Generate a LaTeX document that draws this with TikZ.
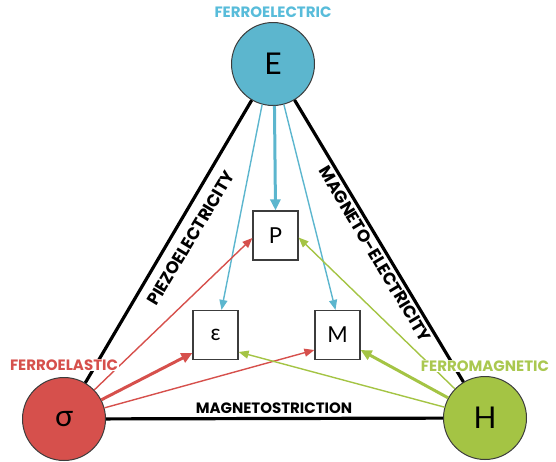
\documentclass[tikz,border=0pt]{standalone}
\usepackage{fontspec}
\setmainfont{Lato}
\newfontfamily\labfont{Poppins}
\usetikzlibrary{arrows.meta}
\definecolor{ecol}{RGB}{92,182,206}
\definecolor{ecolt}{RGB}{88,188,218}
\definecolor{scol}{RGB}{214,80,76}
\definecolor{hcol}{RGB}{164,196,68}
\definecolor{hcolt}{RGB}{170,200,80}
\definecolor{bordc}{RGB}{60,60,60}
\begin{document}
\begin{tikzpicture}[x=1pt,y=-1pt,
 phasenode/.style={circle,draw=bordc,line width=1pt,minimum size=83pt,inner sep=0pt,font=\fontsize{30}{32}\selectfont},
 qbox/.style={draw=bordc,line width=1.2pt,minimum width=45pt,minimum height=49pt,inner sep=0pt,fill=white,font=\fontsize{22}{24}\selectfont},
 triedge/.style={line width=3.2pt,black},
 thinarr/.style={line width=1.4pt,-{Triangle[length=10pt,width=8pt]}},
 thickarr/.style={line width=3pt,-{Triangle[length=11pt,width=10pt]}},
 lab/.style={font=\labfont\bfseries\fontsize{15}{17}\selectfont,inner sep=1pt},
 rlab/.style={font=\labfont\bfseries\fontsize{17}{19}\selectfont,inner sep=1pt},
]
\useasboundingbox (0,0) rectangle (556,461);
\node[phasenode,fill=ecol] (E) at (273,64) {E};
\node[phasenode,fill=scol] (S) at (64,419) {σ};
\node[phasenode,fill=hcol] (H) at (485,418) {H};
\node[qbox] (P) at (275.5,235.5) {P};
\node[qbox] (eps) at (215.5,335) {ε};
\node[qbox] (M) at (337.5,335) {M};
% triangle edges
\draw[triedge] (E) -- (S);
\draw[triedge] (E) -- (H);
\draw[triedge] (S) -- (H);
% ferroelectric arrows
\draw[thickarr,ecol] (E.-88) -- (P.north);
\draw[thinarr,ecol] (E.-105) -- ([xshift=6pt]eps.north);
\draw[thinarr,ecol] (E.-75) -- ([xshift=-2pt]M.north);
% ferroelastic arrows
\draw[thinarr,scol] (S) -- ([yshift=-2.5pt]P.west);
\draw[thickarr,scol] (S) -- ([yshift=-18pt]eps.west);
\draw[thinarr,scol] (S) -- ([yshift=-15pt]M.west);
% ferromagnetic arrows
\draw[thinarr,hcol] (H) -- ([yshift=-2pt]P.east);
\draw[thickarr,hcol] (H) -- ([yshift=-15pt]M.east);
\draw[thinarr,hcol] (H) -- ([yshift=-17pt]eps.east);
% labels
\node[lab,text=ecolt] (lfe) at (273,12) {FERROELECTRIC};
\node[lab,text=scol,fill=white] (lfa) at (64,365) {FERROELASTIC};
\node[lab,text=hcolt,fill=white] (lfm) at (485,366) {FERROMAGNETIC};
\node[rlab,rotate=59] (lpz) at (191,238) {PIEZOELECTRICITY};
\node[rlab,rotate=-59] (lme) at (375,254) {MAGNETO-ELECTRICITY};
\node[lab] (lms) at (274,408) {MAGNETOSTRICTION};
\end{tikzpicture}
\end{document}
